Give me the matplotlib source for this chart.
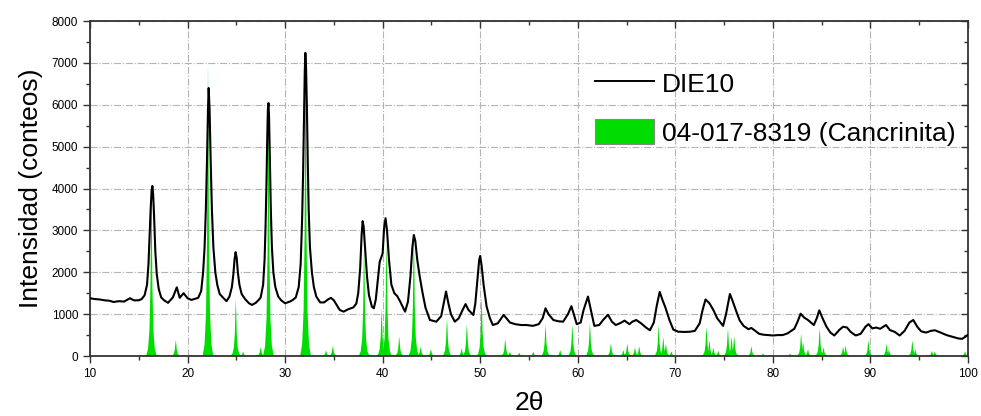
import matplotlib
matplotlib.use("Agg")
import matplotlib.pyplot as plt
from matplotlib.patches import Patch
from matplotlib.lines import Line2D
from matplotlib.ticker import MultipleLocator

plt.rcParams['font.family'] = ['Liberation Sans', 'DejaVu Sans']

# measured pattern DIE10 (2theta, counts)
die10_2theta = [10.0, 10.5, 11.0, 11.5, 12.0, 12.4, 13.0, 13.5, 14.1, 14.5, 15.0, 15.3, 15.6, 15.85,
                16.0, 16.12, 16.22, 16.32, 16.4, 16.48, 16.58, 16.7, 16.85, 17.05, 17.3, 17.6, 18.0,
                18.5, 18.9, 19.2, 19.6, 20.0, 20.4, 20.8, 21.1, 21.4, 21.6, 21.75, 21.88, 22.0, 22.1,
                22.17, 22.26, 22.38, 22.5, 22.65, 22.85, 23.05, 23.3, 23.7, 24.0, 24.3, 24.55, 24.7,
                24.82, 24.93, 25.04, 25.16, 25.32, 25.55, 25.9, 26.3, 26.6, 27.0, 27.3, 27.5, 27.75,
                27.9, 28.0, 28.1, 28.18, 28.24, 28.3, 28.36, 28.45, 28.54, 28.65, 28.8, 29.0, 29.3,
                29.6, 30.0, 30.5, 30.8, 31.1, 31.4, 31.6, 31.75, 31.85, 31.95, 32.02, 32.08, 32.15,
                32.24, 32.33, 32.42, 32.55, 32.75, 32.95, 33.2, 33.6, 34.0, 34.4, 34.7, 35.0, 35.6,
                36.0, 36.5, 37.0, 37.3, 37.5, 37.7, 37.85, 37.95, 38.05, 38.2, 38.4, 38.6, 38.9,
                39.1, 39.3, 39.5, 39.7, 39.85, 40.0, 40.15, 40.3, 40.45, 40.65, 40.9, 41.2, 41.5,
                41.8, 42.3, 42.6, 42.85, 43.05, 43.2, 43.35, 43.55, 43.8, 44.1, 44.4, 44.85, 45.5,
                46.0, 46.3, 46.5, 46.75, 47.0, 47.4, 47.8, 48.2, 48.5, 48.8, 49.3, 49.5, 49.75,
                49.9, 50.0, 50.15, 50.35, 50.66, 51.0, 51.3, 51.8, 52.4, 52.7, 53.05, 53.6, 54.2,
                54.76, 55.4, 56.0, 56.4, 56.7, 57.0, 57.5, 58.0, 58.5, 59.0, 59.35, 59.9, 60.3,
                60.6, 61.05, 61.3, 61.7, 62.2, 62.6, 63.1, 63.5, 63.9, 64.4, 64.8, 65.3, 65.6,
                66.0, 66.5, 67.0, 67.4, 67.8, 68.1, 68.4, 68.7, 69.0, 69.4, 69.8, 70.3, 71.0,
                71.5, 72.0, 72.5, 72.8, 73.1, 73.5, 73.9, 74.3, 74.9, 75.2, 75.6, 75.9, 76.2,
                76.6, 77.0, 77.5, 77.8, 78.2, 78.6, 79.0, 79.5, 80.0, 80.5, 81.0, 81.5, 82.2,
                82.5, 82.85, 83.2, 83.6, 84.2, 84.5, 84.76, 85.1, 85.5, 85.9, 86.3, 86.8, 87.2,
                87.6, 88.0, 88.5, 89.0, 89.5, 89.8, 90.2, 90.6, 91.0, 91.6, 92.0, 92.5, 93.0,
                93.5, 94.0, 94.4, 94.8, 95.2, 95.7, 96.2, 96.6, 97.2, 97.8, 98.4, 99.0, 99.4,
                99.8, 100.0]
die10_counts = [1380, 1360, 1350, 1330, 1320, 1290, 1310, 1300, 1380, 1330, 1330, 1360, 1450, 1700,
                2200, 2900, 3500, 3950, 4060, 3850, 3300, 2500, 1950, 1600, 1400, 1330, 1270,
                1400, 1640, 1390, 1500, 1380, 1340, 1370, 1390, 1550, 2000, 2600, 3500, 4700, 5900,
                6400, 5900, 4600, 3500, 2600, 2000, 1700, 1480, 1380, 1310, 1420, 1650, 1950,
                2300, 2480, 2350, 2000, 1700, 1480, 1360, 1260, 1220, 1270, 1340, 1400, 1700,
                2300, 3100, 4200, 5300, 5900, 6040, 5700, 4600, 3500, 2600, 2000, 1650, 1420,
                1330, 1260, 1300, 1340, 1400, 1650, 2200, 3300, 4400, 5800, 6800, 7240, 6900,
                5900, 4600, 3500, 2600, 2000, 1650, 1420, 1280, 1280, 1350, 1390, 1330, 1100,
                1060, 1120, 1160, 1250, 1500, 2100, 2900, 3220, 3100, 2600, 1900, 1450, 1180,
                1140, 1350, 1800, 2250, 2350, 2450, 3050, 3290, 3000, 2300, 1700, 1500, 1430,
                1300, 1060, 1300, 1900, 2600, 2890, 2750, 2300, 1900, 1500, 1150, 860, 820,
                950, 1300, 1540, 1250, 1000, 820, 900, 1100, 1240, 1100, 980, 1250, 1900,
                2300, 2390, 2150, 1700, 1180, 900, 740, 780, 980, 900, 800, 760, 740,
                740, 720, 760, 900, 1140, 1000, 860, 830, 820, 1000, 1190, 760, 800,
                1100, 1420, 1150, 720, 740, 860, 985, 820, 740, 790, 845, 760, 820,
                860, 780, 680, 615, 800, 1200, 1530, 1330, 1150, 860, 630, 580, 575,
                580, 600, 780, 1100, 1350, 1260, 1100, 900, 720, 1000, 1480, 1300, 1100,
                850, 720, 640, 670, 600, 530, 510, 500, 490, 500, 500, 540, 650,
                800, 1010, 920, 860, 740, 900, 1090, 900, 700, 560, 490, 620, 700,
                680, 570, 490, 530, 700, 760, 660, 680, 650, 740, 620, 575, 490,
                600, 800, 860, 700, 590, 560, 600, 615, 560, 500, 460, 420, 410,
                470, 500]

# reference card 04-017-8319 (Cancrinita): peak position, intensity
ref_2theta = [16.3, 18.8, 22.1, 24.95, 25.7, 27.5, 28.3, 32.1, 34.2, 34.9, 38.1, 39.9, 40.4, 41.7,
              43.2, 43.9, 44.95, 46.6, 48.1, 48.64, 50.15, 52.57, 53.05, 54.0, 55.45, 56.7, 58.2,
              59.45, 61.25, 63.4, 64.67, 65.08, 65.87, 66.3, 68.3, 68.77, 69.04, 69.6, 73.2, 73.5,
              73.9, 74.4, 75.4, 75.77, 76.04, 77.8, 79.0, 81.75, 82.9, 83.1, 83.6, 84.8, 85.2,
              87.2, 87.46, 89.8, 91.65, 91.9, 94.3, 94.6, 96.3, 96.6, 99.7]
ref_counts = [4170, 380, 7000, 1340, 100, 210, 5950, 7200, 130, 240, 2700, 1115, 2770, 460,
              2930, 220, 160, 900, 180, 765, 1420, 400, 100, 80, 100, 740, 140,
              740, 780, 300, 140, 290, 200, 230, 740, 450, 290, 110, 700, 370,
              200, 120, 655, 450, 470, 230, 60, 60, 530, 330, 160, 655, 200,
              220, 245, 370, 290, 150, 370, 160, 120, 110, 110]

GREEN = '#00dd00'

fig = plt.figure(figsize=(9.81, 4.16), dpi=100)
ax = fig.add_axes([0.0917, 0.1442, 0.895, 0.8053])

# reference peaks drawn as narrow filled profiles
shape_dx = [-0.55, -0.35, -0.2, -0.1, -0.04, 0.0, 0.04, 0.1, 0.2, 0.35, 0.55]
shape_fr = [0.0, 0.04, 0.15, 0.4, 0.8, 1.0, 0.8, 0.4, 0.15, 0.04, 0.0]
for pos, h in zip(ref_2theta, ref_counts):
    ax.fill([pos + d for d in shape_dx], [h * f for f in shape_fr],
            color=GREEN, lw=0, zorder=2)

ax.plot(die10_2theta, die10_counts, color='black', lw=1.5, zorder=3)

ax.set_xlim(10, 100)
ax.set_ylim(0, 8000)
ax.xaxis.set_major_locator(MultipleLocator(10))
ax.xaxis.set_minor_locator(MultipleLocator(5))
ax.yaxis.set_major_locator(MultipleLocator(1000))
ax.yaxis.set_minor_locator(MultipleLocator(500))
ax.grid(True, which='major', color='#b4b4b4', ls='-.', lw=0.8, zorder=0)
ax.set_axisbelow(True)

for sp in ax.spines.values():
    sp.set_color('#333333')
    sp.set_linewidth(1.3)
ax.tick_params(which='both', direction='out', colors='#333333', labelsize=8.5,
               labelcolor='black', width=1)
ax.tick_params(which='major', length=5)
ax.tick_params(which='minor', length=3)
ax.tick_params(which='both', top=True, right=True)
# top/right ticks inward
for t in ax.xaxis.get_major_ticks() + ax.xaxis.get_minor_ticks():
    t.tick2line.set_marker(matplotlib.lines.TICKDOWN)
for t in ax.yaxis.get_major_ticks() + ax.yaxis.get_minor_ticks():
    t.tick2line.set_marker(matplotlib.lines.TICKLEFT)

ax.set_xlabel('2θ', fontsize=19, labelpad=8)
ax.set_ylabel('Intensidad (conteos)', fontsize=19, labelpad=6)

handles = [Line2D([], [], color='black', lw=1.4),
           Patch(facecolor=GREEN, edgecolor='#888888', lw=0.8)]
ax.legend(handles, ['DIE10', '04-017-8319 (Cancrinita)'], loc='upper left',
          bbox_to_anchor=(0.56, 0.893), frameon=False, fontsize=19, borderpad=0,
          handlelength=2.25, handleheight=1.1, handletextpad=0.3, labelspacing=0.85)

fig.savefig('out.png', dpi=100)
